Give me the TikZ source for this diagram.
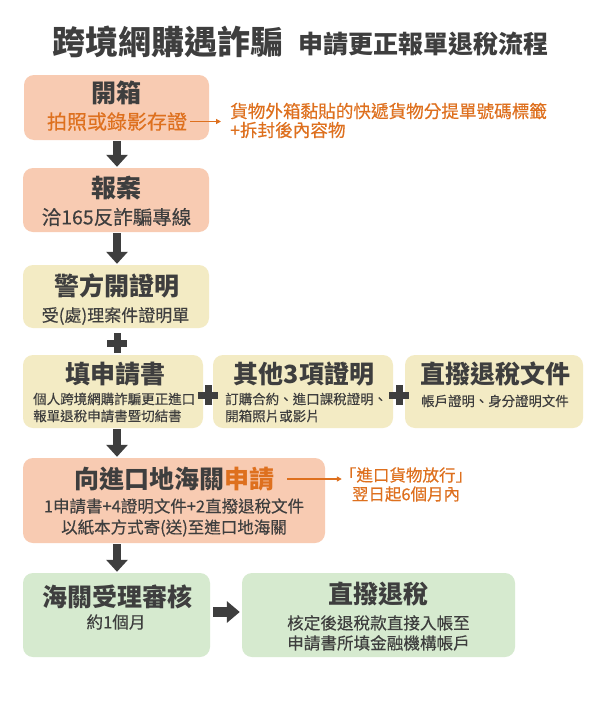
\documentclass[tikz,border=0pt]{standalone}
\usepackage{fontspec}
\setmainfont{Noto Sans CJK TC}
\newfontfamily\medfont{Noto Sans CJK TC}[FakeBold=0.35]
\usetikzlibrary{arrows.meta}
\definecolor{salmon}{RGB}{248,203,178}
\definecolor{paleyellow}{RGB}{243,235,196}
\definecolor{palegreen}{RGB}{214,234,207}
\definecolor{dark}{RGB}{62,62,62}
\definecolor{orng}{RGB}{222,112,30}
\newcommand{\drawplus}[2]{%
  \fill[dark] (#1-10,#2-3.5) rectangle (#1+10,#2+3.5);
  \fill[dark] (#1-3.5,#2-10) rectangle (#1+3.5,#2+10);}
\begin{document}
\begin{tikzpicture}[x=1pt,y=-1pt,
  box/.style={rounded corners=10pt, inner sep=0pt},
  hd/.style={inner sep=0pt, text=dark, font=\bfseries\fontsize{25}{30}\selectfont},
  txt/.style={inner sep=0pt, text=dark},
  dn/.style={draw=dark, line width=8pt, -{Triangle[width=21pt,length=12pt]}, shorten <=1pt, shorten >=1pt},
  rarr/.style={draw=dark, line width=10pt, -{Triangle[width=21pt,length=13pt]}},
  oarr/.style={draw=orng, line width=1.3pt, -{Triangle[width=5pt,length=5pt]}}
]
\useasboundingbox[fill=white] (0,0) rectangle (600,720);

% title
\node[txt, anchor=west, font=\bfseries\fontsize{33}{40}\selectfont] (t1) at (52,42) {跨境網購遇詐騙};
\node[txt, anchor=west, font=\bfseries\fontsize{25}{30}\selectfont] (t2) at (298,44) {申請更正報單退稅流程};

% boxes
\node[box, fill=salmon, minimum width=185pt, minimum height=65pt] (b1) at (116.5,107.5) {};
\node[box, fill=salmon, minimum width=186pt, minimum height=64pt] (b2) at (116,200) {};
\node[box, fill=paleyellow, minimum width=186pt, minimum height=63pt] (b3) at (116,296.5) {};
\node[box, fill=paleyellow, minimum width=180pt, minimum height=73pt] (bA) at (113,391.5) {};
\node[box, fill=paleyellow, minimum width=180pt, minimum height=73pt] (bB) at (303,391.5) {};
\node[box, fill=paleyellow, minimum width=178pt, minimum height=73pt] (bC) at (494,391.5) {};
\node[box, fill=salmon, minimum width=302pt, minimum height=85pt] (b4) at (174,500.5) {};
\node[box, fill=palegreen, minimum width=187pt, minimum height=84pt] (b5) at (116.5,615) {};
\node[box, fill=palegreen, minimum width=273pt, minimum height=84pt] (b6) at (378.5,615) {};

% box 1
\node[hd] (h1) at (116.5,93) {開箱};
\node[txt, text=orng, font=\medfont\fontsize{20}{24}\selectfont] (s1) at (117,121.5) {拍照或錄影存證};
\node[txt, text=orng, anchor=west, align=left, font=\medfont\fontsize{17.6}{19}\selectfont] (n1) at (230,120.5) {貨物外箱黏貼的快遞貨物分提單號碼標籤\\+拆封後內容物};

% box 2
\node[hd] (h2) at (116,188) {報案};
\node[txt, font=\medfont\fontsize{19.5}{24}\selectfont] (s2) at (116.5,217) {洽165反詐騙專線};

% box 3
\node[hd] (h3) at (116.5,286) {警方開證明};
\node[txt, font=\medfont\fontsize{17}{20}\selectfont] (s3) at (115.5,316) {受(處)理案件證明單};

% row
\node[hd] (hA) at (115,374) {填申請書};
\node[txt, anchor=west, align=left, font=\medfont\fontsize{13.5}{17}\selectfont] (sA) at (33,407.5) {個人跨境網購詐騙更正進口\\報單退稅申請書暨切結書};
\node[hd] (hB) at (304,374) {其他3項證明};
\node[txt, anchor=west, align=left, font=\medfont\fontsize{13.5}{17}\selectfont] (sB) at (225,407.5) {訂購合約、進口課稅證明、\\開箱照片或影片};
\node[hd] (hC) at (495,374) {直撥退稅文件};
\node[txt, font=\medfont\fontsize{13.4}{17}\selectfont] (sC) at (495,401) {帳戶證明、身分證明文件};

% box 4
\node[hd] (h4) at (174,479) {向進口地海關\textcolor{orng}{申請}};
\node[txt, align=center, font=\medfont\fontsize{16.5}{21}\selectfont] (s4) at (174,517.5) {1申請書+4證明文件+2直撥退稅文件\\以紙本方式寄(送)至進口地海關};
\node[txt, text=orng, align=center, font=\medfont\fontsize{16.5}{19}\selectfont] (n4) at (406,484.5) {「進口貨物放行」\\翌日起6個月內};

% box 5 and 6
\node[hd] (h5) at (117,597) {海關受理審核};
\node[txt, font=\medfont\fontsize{16.6}{20}\selectfont] (s5) at (116,622) {約1個月};
\node[hd] (h6) at (378,594) {直撥退稅};
\node[txt, align=center, font=\medfont\fontsize{16.6}{20}\selectfont] (s6) at (378.5,633) {核定後退稅款直接入帳至\\申請書所填金融機構帳戶};

% connectors
\coordinate (colx) at (117,0);
\draw[dn] (b1.south -| colx) -- (b2.north -| colx);
\draw[dn] (b2.south -| colx) -- (b3.north -| colx);
\draw[dn] (bA.south -| colx) -- (b4.north -| colx);
\draw[dn] (b4.south -| colx) -- (b5.north -| colx);
\draw[rarr, shorten <=3pt, shorten >=2pt] ([yshift=3pt]b5.east) -- ([yshift=3pt]b6.west);
\draw[oarr, shorten <=3pt, shorten >=9pt] (s1.east) -- (s1.east -| n1.west);
\draw[oarr, shorten <=13pt, shorten >=-2pt] (h4.east) -- (h4.east -| n4.west);

% plus signs
\drawplus{117}{343}
\drawplus{208}{395}
\drawplus{399}{395}
\end{tikzpicture}
\end{document}
